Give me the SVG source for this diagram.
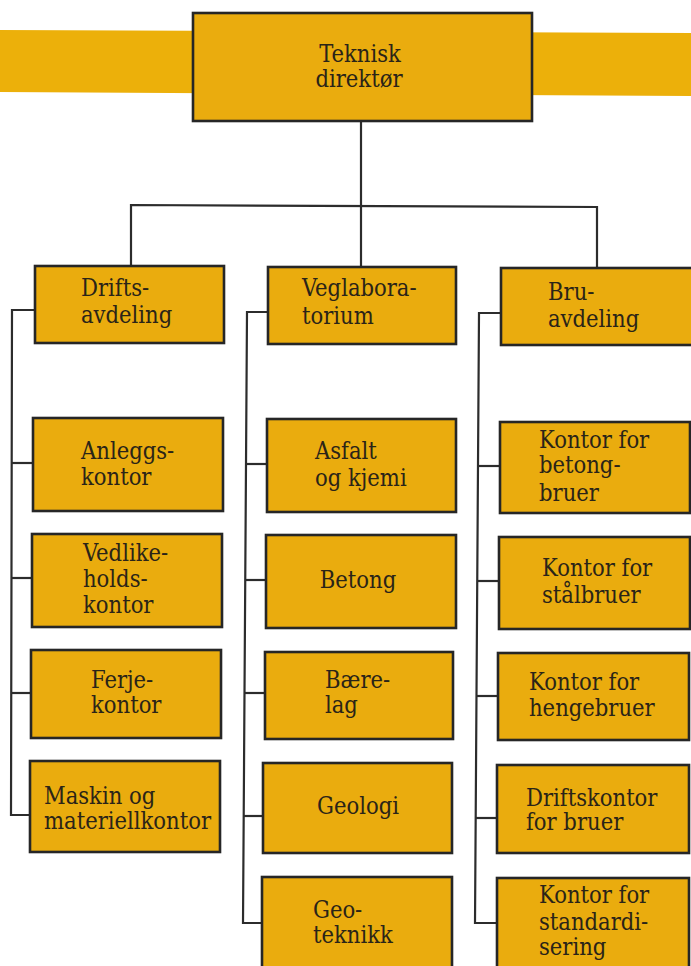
<svg xmlns="http://www.w3.org/2000/svg" width="691" height="966" viewBox="0 0 691 966">
  <style>
    .box { fill: #EAAC0E; stroke: #262626; stroke-width: 2.6; }
    .band { fill: #ECB00A; }
    .wire { fill: none; stroke: #2c2c2c; stroke-width: 2.2; stroke-linejoin: miter; }
    text { font-family: "DejaVu Serif Condensed", "DejaVu Serif", serif; font-stretch: condensed; font-size: 23.5px; fill: #2a2418; }
    .c { text-anchor: middle; }
  </style>
  <rect width="691" height="966" fill="#ffffff"/>
  <!-- horizontal colour band behind the top box -->
  <polygon class="band" points="0,30 691,33 691,96 0,92"/>

  <!-- connectors -->
  <g id="connectors">
    <polyline class="wire" points="361,121 361,206"/>
    <polyline class="wire" points="131,266 131,205 597,207 597,269"/>
    <polyline class="wire" points="361,206 361,267"/>
    <!-- Driftsavdeling branch -->
    <polyline class="wire" points="35,310 12,310 11,815 30,815"/>
    <line class="wire" x1="12" y1="463" x2="33" y2="463"/>
    <line class="wire" x1="12" y1="578" x2="32" y2="578"/>
    <line class="wire" x1="11" y1="693" x2="31" y2="693"/>
    <!-- Veglaboratorium branch -->
    <polyline class="wire" points="268,312 247,312 243,923 262,923"/>
    <line class="wire" x1="246" y1="464" x2="267" y2="464"/>
    <line class="wire" x1="246" y1="580" x2="266" y2="580"/>
    <line class="wire" x1="244" y1="693" x2="265" y2="693"/>
    <line class="wire" x1="244" y1="816" x2="263" y2="816"/>
    <!-- Bruavdeling branch -->
    <polyline class="wire" points="501,313 479,313 475,923 497,923"/>
    <line class="wire" x1="478" y1="466" x2="500" y2="466"/>
    <line class="wire" x1="477" y1="581" x2="499" y2="581"/>
    <line class="wire" x1="476" y1="696" x2="498" y2="696"/>
    <line class="wire" x1="476" y1="818" x2="497" y2="818"/>
  </g>

  <g id="teknisk-direktor">
    <rect class="box" x="193" y="13" width="339" height="108"/>
    <text class="c" x="360" y="62">Teknisk</text>
    <text class="c" x="359" y="87">direktør</text>
  </g>

  <g id="driftsavdeling">
    <rect class="box" x="35" y="266" width="189" height="77"/>
    <text x="81" y="296">Drifts-</text>
    <text x="81" y="323">avdeling</text>
  </g>
  <g id="veglaboratorium">
    <rect class="box" x="268" y="267" width="188" height="77"/>
    <text x="302" y="296">Veglabora-</text>
    <text x="302" y="324">torium</text>
  </g>
  <g id="bruavdeling">
    <rect class="box" x="501" y="268" width="194" height="77"/>
    <text x="548" y="300">Bru-</text>
    <text x="548" y="327">avdeling</text>
  </g>

  <!-- Driftsavdeling offices -->
  <g id="anleggskontor">
    <rect class="box" x="33" y="418" width="190" height="93"/>
    <text x="81" y="459">Anleggs-</text>
    <text x="81" y="485">kontor</text>
  </g>
  <g id="vedlikeholdskontor">
    <rect class="box" x="32" y="534" width="190" height="93"/>
    <text x="83" y="561">Vedlike-</text>
    <text x="83" y="587">holds-</text>
    <text x="83" y="613">kontor</text>
  </g>
  <g id="ferjekontor">
    <rect class="box" x="31" y="650" width="190" height="88"/>
    <text x="91" y="688">Ferje-</text>
    <text x="91" y="713">kontor</text>
  </g>
  <g id="maskinkontor">
    <rect class="box" x="30" y="761" width="190" height="91"/>
    <text x="44" y="804">Maskin og</text>
    <text x="44" y="829">materiellkontor</text>
  </g>

  <!-- Veglaboratorium sections -->
  <g id="asfalt">
    <rect class="box" x="267" y="419" width="189" height="93"/>
    <text x="315" y="459">Asfalt</text>
    <text x="315" y="486">og kjemi</text>
  </g>
  <g id="betong">
    <rect class="box" x="266" y="535" width="190" height="93"/>
    <text class="c" x="358" y="588">Betong</text>
  </g>
  <g id="baerelag">
    <rect class="box" x="265" y="652" width="188" height="87"/>
    <text x="325" y="688">Bære-</text>
    <text x="325" y="713">lag</text>
  </g>
  <g id="geologi">
    <rect class="box" x="263" y="763" width="189" height="90"/>
    <text class="c" x="358" y="814">Geologi</text>
  </g>
  <g id="geoteknikk">
    <rect class="box" x="262" y="877" width="190" height="95"/>
    <text x="313" y="918">Geo-</text>
    <text x="313" y="943">teknikk</text>
  </g>

  <!-- Bruavdeling offices -->
  <g id="betongbruer">
    <rect class="box" x="500" y="422" width="190" height="91"/>
    <text x="539" y="448">Kontor for</text>
    <text x="539" y="473">betong-</text>
    <text x="539" y="501">bruer</text>
  </g>
  <g id="stalbruer">
    <rect class="box" x="499" y="537" width="191" height="92"/>
    <text x="542" y="576">Kontor for</text>
    <text x="542" y="603">stålbruer</text>
  </g>
  <g id="hengebruer">
    <rect class="box" x="498" y="653" width="191" height="87"/>
    <text x="529" y="690">Kontor for</text>
    <text x="529" y="716">hengebruer</text>
  </g>
  <g id="driftskontor-bruer">
    <rect class="box" x="497" y="765" width="192" height="88"/>
    <text x="526" y="806">Driftskontor</text>
    <text x="526" y="830">for bruer</text>
  </g>
  <g id="standardisering">
    <rect class="box" x="497" y="878" width="192" height="95"/>
    <text x="539" y="903">Kontor for</text>
    <text x="539" y="930">standardi-</text>
    <text x="539" y="955">sering</text>
  </g>
</svg>
